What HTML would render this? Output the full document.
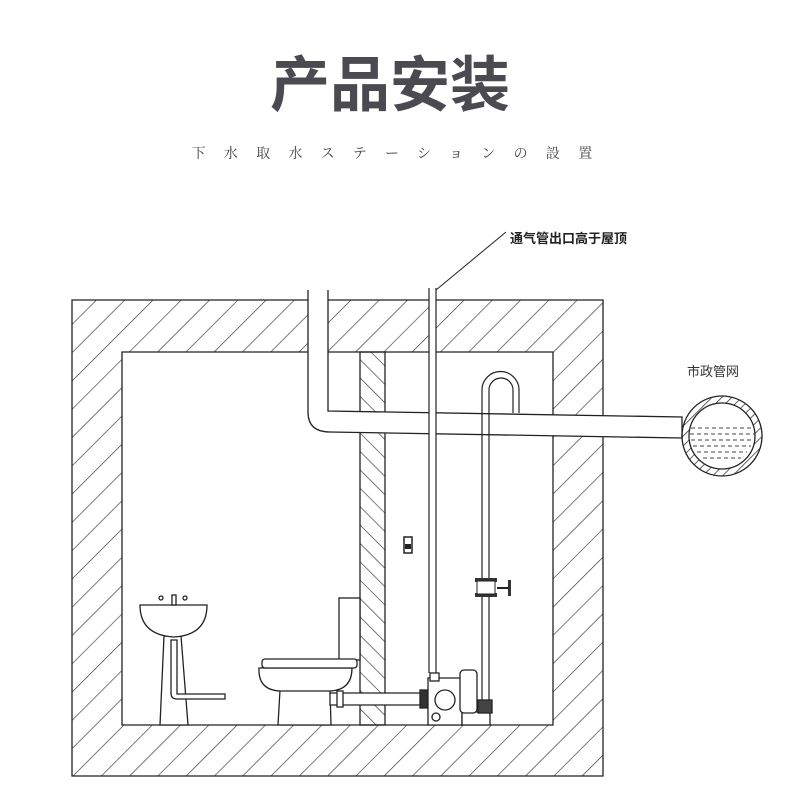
<!DOCTYPE html>
<html><head><meta charset="utf-8"><style>
html,body{margin:0;padding:0;background:#fff;width:790px;height:796px;overflow:hidden}
</style></head><body>
<svg width="790" height="796" viewBox="0 0 790 796" xmlns="http://www.w3.org/2000/svg">
<defs>
<pattern id="h1" patternUnits="userSpaceOnUse" width="20" height="20" patternTransform="rotate(45)">
<line x1="0" y1="0" x2="0" y2="20" stroke="#333" stroke-width="1.3"/>
</pattern>
<pattern id="h2" patternUnits="userSpaceOnUse" width="13" height="13" patternTransform="rotate(-45)">
<line x1="0" y1="0" x2="0" y2="13" stroke="#333" stroke-width="1.3"/>
</pattern>
<pattern id="h3" patternUnits="userSpaceOnUse" width="7" height="7" patternTransform="rotate(45)">
<line x1="0" y1="0" x2="0" y2="7" stroke="#333" stroke-width="1.5"/>
</pattern>
</defs>
<text x="390" y="106" text-anchor="middle" font-family="Liberation Sans, Noto Sans CJK SC, sans-serif" font-weight="bold" font-size="60" fill="#4a4a50">产品安装</text>
<text x="401" y="158" text-anchor="middle" font-family="Liberation Serif, Noto Serif CJK SC, serif" font-size="14" fill="#444" letter-spacing="18.3">下水取水ステーションの設置</text>

<!-- walls -->
<path d="M72,300H603V776H72Z M122,352V725H553V352Z" fill="url(#h1)" fill-rule="evenodd" stroke="#222" stroke-width="1.3"/>
<rect x="360" y="352" width="25" height="373" fill="url(#h2)" stroke="#222" stroke-width="1.3"/>

<!-- big pipe -->
<path d="M308,290V412Q308,432 330,432L682,438V417L328,411V290" fill="#fff" stroke="#222" stroke-width="1.3"/>
<!-- vent pipe -->
<rect x="429" y="288" width="7" height="385" fill="#fff" stroke="none"/>
<path d="M429,288V673M436,288V673" stroke="#222" stroke-width="1.2"/>
<line x1="436" y1="290" x2="506" y2="232" stroke="#222" stroke-width="1"/>
<text x="510" y="243" font-family="Liberation Sans, Noto Sans CJK SC, sans-serif" font-size="13" font-weight="bold" fill="#222">通气管出口高于屋顶</text>

<!-- U pipe -->
<path d="M482,710V390A18.5,18.5 0 0 1 519,390V413 M489,710V390A12,12 0 0 1 513,390V413" fill="none" stroke="#222" stroke-width="1.2"/>
<!-- valve -->
<rect x="475" y="578" width="22" height="4" fill="#333"/>
<rect x="475" y="593" width="22" height="4" fill="#333"/>
<rect x="477" y="581" width="18" height="13" fill="#fff" stroke="#222"/>
<line x1="497" y1="588" x2="508" y2="588" stroke="#222" stroke-width="2"/>
<rect x="508" y="580" width="3" height="16" fill="#333"/>

<!-- sewer -->
<circle cx="722" cy="436" r="40" fill="url(#h3)" stroke="#222" stroke-width="1.3"/>
<circle cx="722" cy="436" r="33" fill="#fff" stroke="#222" stroke-width="1.3"/>
<g stroke="#444" stroke-width="1" stroke-dasharray="4,3">
<line x1="691" y1="428" x2="753" y2="428"/><line x1="690" y1="434" x2="754" y2="434"/>
<line x1="691" y1="440" x2="753" y2="440"/><line x1="693" y1="446" x2="751" y2="446"/>
<line x1="697" y1="452" x2="747" y2="452"/><line x1="703" y1="458" x2="741" y2="458"/>
</g>
<text x="687" y="376" font-family="Liberation Sans, Noto Sans CJK SC, sans-serif" font-size="13" fill="#333">市政管网</text>

<!-- switch -->
<rect x="404" y="537" width="8" height="16" fill="#fff" stroke="#222" stroke-width="1.5"/>
<rect x="405" y="544" width="6" height="5" fill="#222"/>

<!-- sink -->
<g fill="#fff" stroke="#222" stroke-width="1.3">
<path d="M160,725L164,636H181L188,725Z"/>
<path d="M140,605H207Q207,635 174,637Q140,635 140,605Z"/>
<path d="M171,640V693Q171,699 177,699H225V694H177V640Z"/>
<rect x="172" y="595" width="4" height="10"/>
<circle cx="161" cy="598" r="2"/><circle cx="185" cy="598" r="2"/>
<!-- toilet -->
<rect x="339" y="598" width="21" height="62"/>
<path d="M278,725L280,690H330L331,725Z"/>
<path d="M259,668Q258,690 280,691H330Q352,690 352,668Z"/>
<rect x="262" y="659" width="95" height="9" rx="3"/>
<path d="M330,693H428V705H330Z"/>
<rect x="337" y="691" width="6" height="16"/>
<rect x="420" y="690" width="9" height="18" fill="#333"/>
<!-- pump -->
<path d="M428,678H462V725H428Z"/>
<rect x="430" y="673" width="9" height="8"/>
<circle cx="445" cy="700" r="10"/>
<circle cx="436" cy="717" r="4"/>
<path d="M462,712H490V725H462Z"/>
<rect x="460" y="670" width="17" height="43" rx="4"/>
<rect x="478" y="700" width="14" height="13" fill="#444"/>
</g>
</svg>
</body></html>
